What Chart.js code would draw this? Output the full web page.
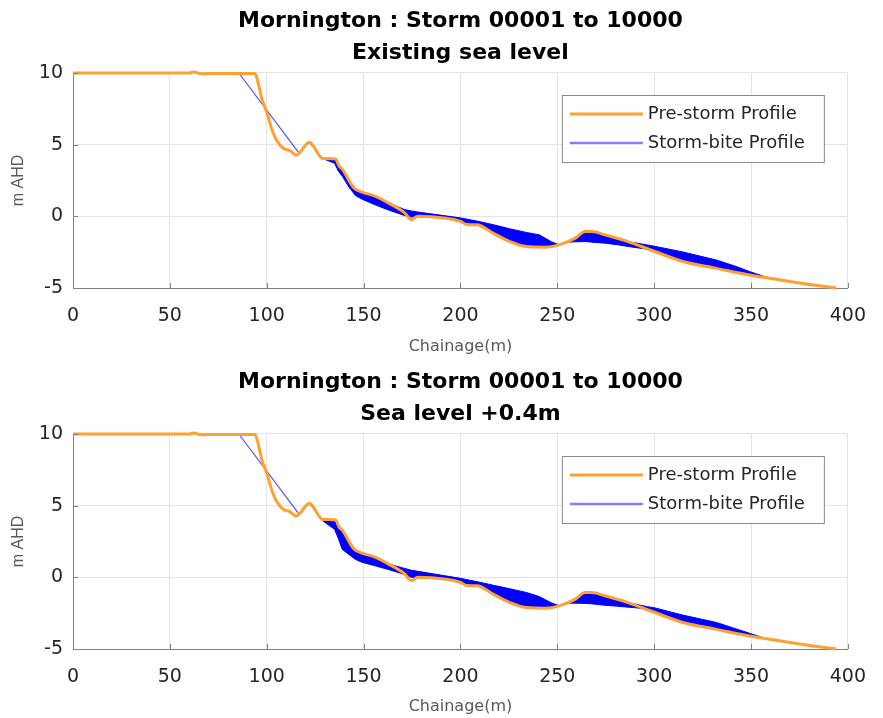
<!DOCTYPE html>
<html>
<head>
<meta charset="utf-8">
<script src="https://cdn.jsdelivr.net/npm/chart.js@4.4.1/dist/chart.umd.min.js"></script>
<style>
  html, body { margin: 0; padding: 0; background: #fff; }
  canvas { display: block; }
</style>
</head>
<body>
<canvas id="topChart" width="883" height="361"></canvas>
<canvas id="bottomChart" width="883" height="357"></canvas>
<script>
// Titles / labels
const mainTitle = 'Mornington : Storm 00001 to 10000';
const subTitles = ['Existing sea level', 'Sea level +0.4m'];
const legendLabels = ['Pre-storm Profile', 'Storm-bite Profile'];
const xTicks = [0, 50, 100, 150, 200, 250, 300, 350, 400];
const yTicks = [-5, 0, 5, 10];

// Pre-storm profile (same in both panels)
const preX = [0, 60, 62.4, 66.1, 70, 94, 95.4, 97.5, 100, 102.6, 105.1, 108.5, 111.9, 115.3, 122, 128.8,
  135.6, 137.3, 139, 144.9, 149.2, 155.9, 162.7, 171.2, 174.6, 178, 191.5, 200, 203.4, 208.5, 216.9,
  225.5, 233.9, 244.1, 250.9, 259.3, 264.4, 267.8, 274.6, 286.5, 298.3, 315.3, 332.2, 349.2, 366.1, 383.1, 394];
const preY = [10, 10, 10.07, 9.94, 9.97, 9.97, 9.4, 8.2, 7.27, 6.1, 5.3, 4.75, 4.58, 4.28, 5.17, 4.04,
  4.0, 3.52, 3.29, 2.0, 1.69, 1.41, 0.94, 0.24, -0.23, 0, -0.11, -0.35, -0.58, -0.58, -1.17,
  -1.76, -2.11, -2.15, -1.99, -1.52, -1.06, -1.06, -1.29, -1.76, -2.35, -3.17, -3.63, -4.1, -4.46, -4.81, -5.0];

// Storm-bite scarp line (all storms coincide)
const scarpX = [85.6, 116.5];
const scarpY = [10, 4.45];

// Storm-bite envelope (upper / lower edge of the bundle of storm profiles)
const biteX = [116.5, 122, 128.8, 135, 137, 139, 142.4, 145.8, 149.2, 156, 162.7, 171.2, 174.6, 178, 191.5,
  200, 208.5, 216.9, 225.5, 233.9, 240.7, 244.1, 247, 250.9, 255, 259.3, 264.4, 267.8, 274.6, 281.4,
  286.5, 296.6, 300, 315.3, 332.2, 342.4, 349.2, 355.8, 360, 366.1];

const existUpper = [4.45, 5.17, 4.04, 3.99, 3.52, 3.29, 2.55, 1.93, 1.69, 1.41, 0.94, 0.47, 0.38, 0.30, 0.05,
  -0.11, -0.33, -0.58, -0.87, -1.12, -1.29, -1.55, -1.78, -1.99, -1.76, -1.52, -1.06, -1.06, -1.29, -1.56,
  -1.76, -2.0, -2.08, -2.5, -3.05, -3.5, -3.85, -4.15, -4.33, -4.46];
const existLower = [4.45, 5.17, 4.04, 3.7, 3.15, 2.8, 2.05, 1.45, 1.2, 0.8, 0.45, 0.05, -0.05, -0.02, -0.11,
  -0.35, -0.58, -1.12, -1.7, -2.05, -2.1, -2.1, -2.05, -1.99, -1.80, -1.78, -1.76, -1.8, -1.87, -1.99,
  -2.1, -2.3, -2.43, -3.17, -3.63, -3.91, -4.1, -4.24, -4.33, -4.46];

const riseUpper = [4.45, 5.17, 4.04, 3.99, 3.52, 3.29, 2.55, 1.93, 1.69, 1.41, 0.94, 0.62, 0.5, 0.42, 0.12,
  -0.07, -0.3, -0.55, -0.8, -1.05, -1.34, -1.58, -1.78, -1.99, -1.76, -1.52, -1.06, -1.06, -1.29, -1.56,
  -1.76, -2.05, -2.12, -2.65, -3.15, -3.6, -3.9, -4.2, -4.33, -4.46];
const riseLower = [4.45, 5.17, 3.95, 3.35, 2.7, 1.95, 1.6, 1.25, 1.05, 0.8, 0.55, 0.2, 0.0, -0.02, -0.11,
  -0.35, -0.58, -1.12, -1.7, -2.05, -2.1, -2.1, -2.05, -1.99, -1.8, -1.8, -1.82, -1.85, -1.95, -2.02,
  -2.08, -2.2, -2.43, -3.17, -3.63, -3.91, -4.1, -4.24, -4.33, -4.46];

const orange = '#ffa031';
const blue = '#0000ff';
const axisGray = '#808080';

const pts = (xs, ys) => xs.map((x, i) => ({ x, y: ys[i] }));

// MATLAB style inward tick marks
const inwardTicks = {
  id: 'inwardTicks',
  afterDraw(chart) {
    const { ctx, chartArea: a, scales: { x, y } } = chart;
    ctx.save();
    ctx.strokeStyle = axisGray;
    ctx.lineWidth = 1;
    ctx.beginPath();
    x.ticks.forEach(t => {
      const px = Math.round(x.getPixelForValue(t.value)) + 0.5;
      ctx.moveTo(px, a.bottom);
      ctx.lineTo(px, a.bottom - 5);
    });
    y.ticks.forEach(t => {
      const py = Math.round(y.getPixelForValue(t.value)) + 0.5;
      ctx.moveTo(a.left, py);
      ctx.lineTo(a.left + 5, py);
    });
    ctx.stroke();
    ctx.restore();
  }
};

// boxed legend inside the plot, top right
const boxLegend = {
  id: 'boxLegend',
  afterDraw(chart) {
    const { ctx, chartArea: a } = chart;
    const left = a.right - 286, top = a.top + 22, w = 262, h = 67;
    const items = [
      { label: legendLabels[0], color: orange, width: 3 },
      { label: legendLabels[1], color: '#8080ff', width: 2.5 }
    ];
    ctx.save();
    ctx.fillStyle = '#fff';
    ctx.fillRect(left, top, w, h);
    ctx.strokeStyle = '#8a8a8a';
    ctx.lineWidth = 1;
    ctx.strokeRect(left + 0.5, top + 0.5, w, h);
    items.forEach((item, i) => {
      const yy = top + 19 + i * 29;
      ctx.strokeStyle = item.color;
      ctx.lineWidth = item.width;
      ctx.beginPath();
      ctx.moveTo(left + 8, yy);
      ctx.lineTo(left + 81, yy);
      ctx.stroke();
      ctx.fillStyle = '#262626';
      ctx.font = '18px "DejaVu Sans"';
      ctx.textBaseline = 'middle';
      ctx.fillText(item.label, left + 86, yy);
    });
    ctx.restore();
  }
};

function makeChart(id, subTitle, upper, lower, xTitlePad) {
  const canvas = document.getElementById(id);
  const H = canvas.height;
  return new Chart(canvas, {
    type: 'line',
    data: {
      datasets: [
        { label: legendLabels[0], data: pts(preX, preY), borderColor: orange, borderWidth: 3,
          cubicInterpolationMode: 'monotone', pointRadius: 0, fill: false, clip: 6, order: 0 },
        { label: 'upper', data: pts(biteX, upper), borderColor: blue, borderWidth: 1,
          pointRadius: 0, fill: '+1', backgroundColor: blue, order: 1 },
        { label: 'lower', data: pts(biteX, lower), borderColor: blue, borderWidth: 1,
          pointRadius: 0, fill: false, order: 2 },
        { label: legendLabels[1], data: pts(scarpX, scarpY), borderColor: '#4f4fff', borderWidth: 1.2,
          pointRadius: 0, fill: false, clip: 4, order: 3 }
      ]
    },
    options: {
      responsive: false,
      animation: false,
      layout: { padding: { left: 0, right: 23, top: 0, bottom: 0 } },
      plugins: {
        legend: { display: false },
        tooltip: { enabled: false },
        title: {
          display: true,
          fullSize: false,
          text: [mainTitle, subTitle],
          color: '#000',
          font: { family: 'DejaVu Sans', size: 22, weight: 'bold', lineHeight: 1.477 },
          padding: { top: 5, bottom: 3 }
        }
      },
      scales: {
        x: {
          type: 'linear',
          min: 0, max: 400,
          afterBuildTicks: s => { s.ticks = xTicks.map(v => ({ value: v })); },
          afterFit: s => { s.height = H - 288; },
          grid: { color: '#e4e4e4', drawTicks: false },
          border: { display: true, color: axisGray, width: 1 },
          ticks: { color: '#262626', padding: 17, maxRotation: 0, font: { family: 'DejaVu Sans', size: 19 } },
          title: { display: true, text: 'Chainage(m)', color: '#595959',
            font: { family: 'DejaVu Sans', size: 16 }, padding: { top: 0, bottom: xTitlePad } }
        },
        y: {
          min: -5, max: 10,
          afterBuildTicks: s => { s.ticks = yTicks.map(v => ({ value: v })); },
          afterFit: s => { s.width = 73; },
          grid: { color: '#e4e4e4', drawTicks: false },
          border: { display: true, color: axisGray, width: 1 },
          ticks: { color: '#262626', padding: 10, font: { family: 'DejaVu Sans', size: 19 } },
          title: { display: true, text: 'm AHD', color: '#595959',
            font: { family: 'Liberation Sans', size: 16 }, padding: { top: 9, bottom: 0 } }
        }
      }
    },
    plugins: [inwardTicks, boxLegend]
  });
}

makeChart('topChart', subTitles[0], existUpper, existLower, 5);
makeChart('bottomChart', subTitles[1], riseUpper, riseLower, 2);
</script>
</body>
</html>
